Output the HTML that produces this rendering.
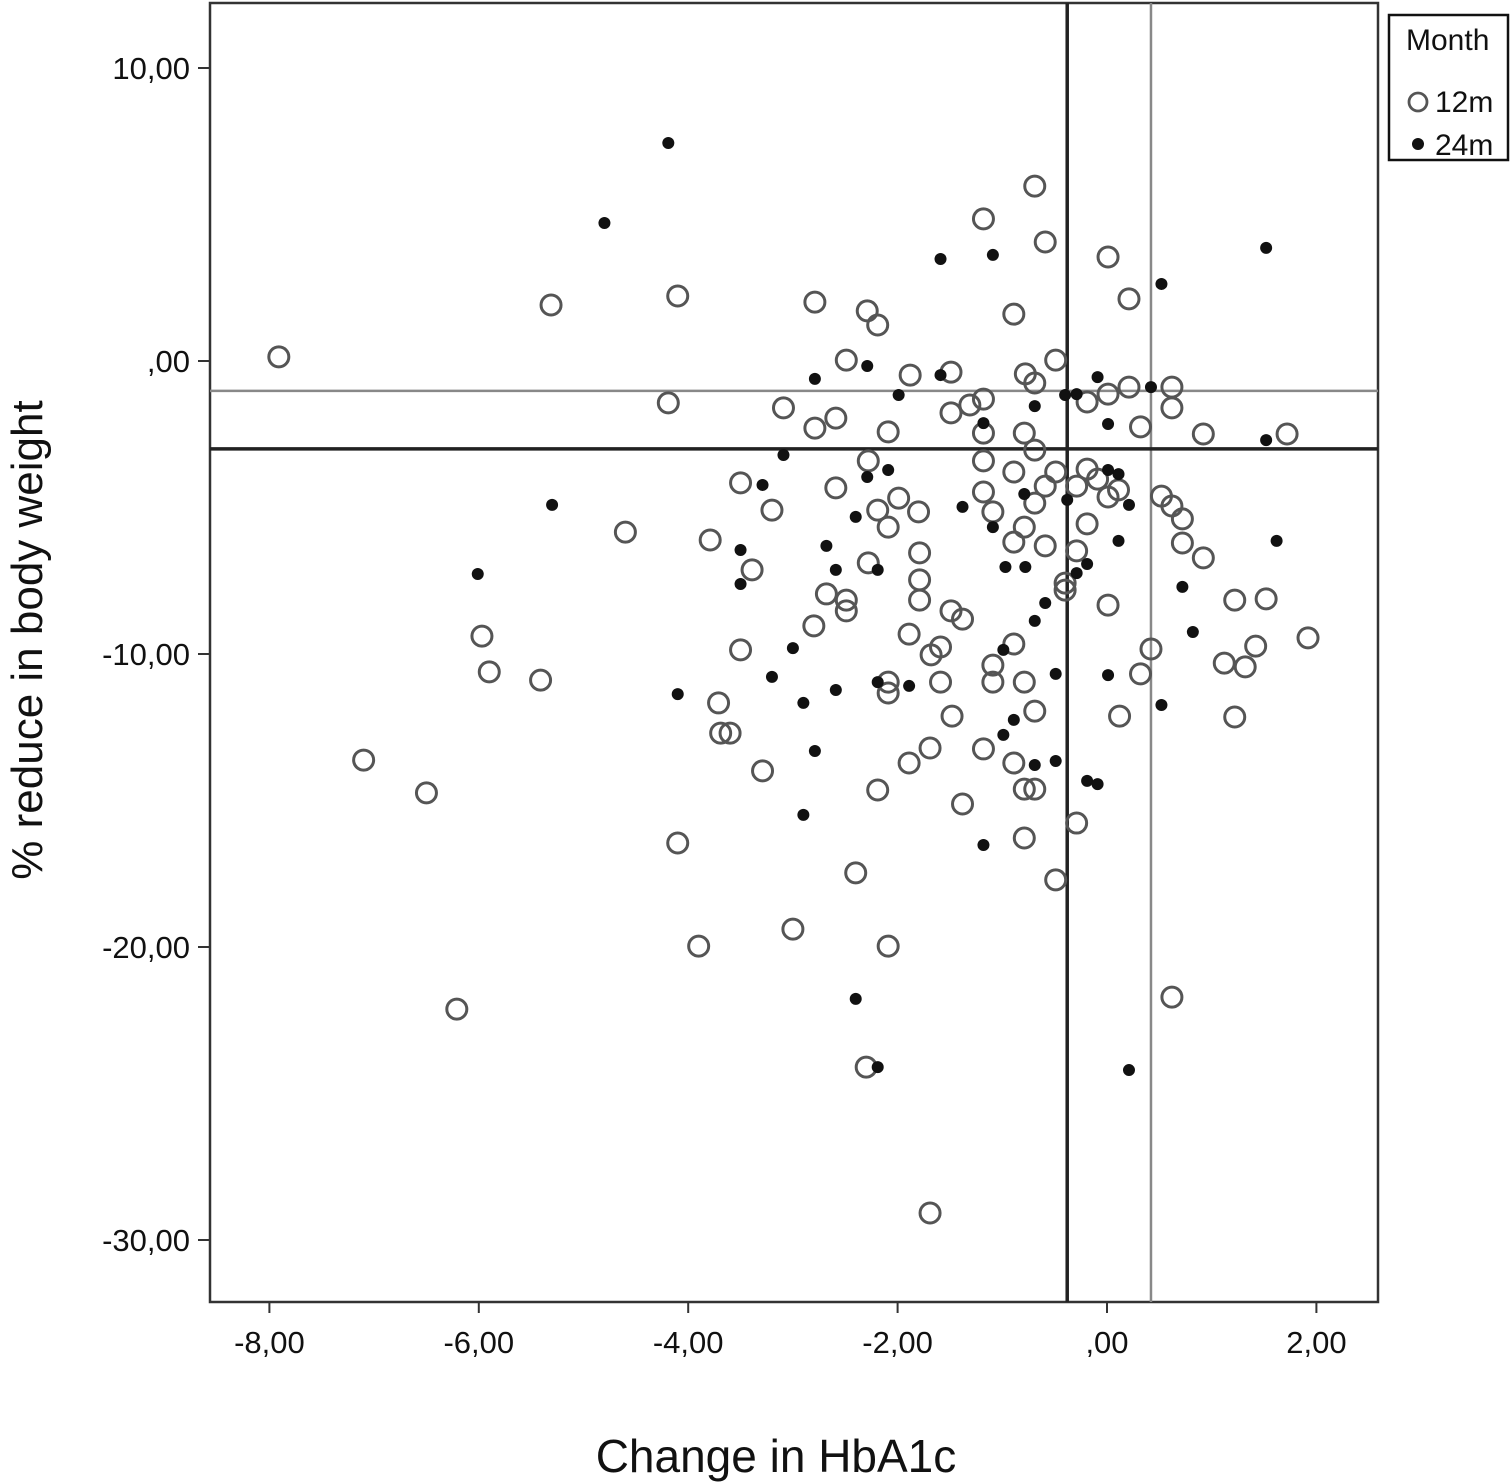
<!DOCTYPE html>
<html><head><meta charset="utf-8"><style>
html,body{margin:0;padding:0;background:#fff;}
svg{display:block;font-family:"Liberation Sans",sans-serif;}
</style></head><body>
<svg id="chart" width="1511" height="1483" viewBox="0 0 1511 1483">
<rect x="210" y="3" width="1168" height="1299" fill="#fff" stroke="#333" stroke-width="2.5"/>
<g id="refs"></g>
<g id="pts"></g>
<g id="axes"></g>
<text x="42" y="640" font-size="44" text-anchor="middle" transform="rotate(-90 42 640)" fill="#111">% reduce in body weight</text>
<text x="776" y="1472" font-size="46" text-anchor="middle" fill="#111">Change in HbA1c</text>
<g>
<rect x="1389" y="15" width="119" height="145" fill="#fff" stroke="#111" stroke-width="2.5"/>
<text x="1406" y="50" font-size="30" fill="#111">Month</text>
<circle cx="1418" cy="102" r="9" fill="none" stroke="#555" stroke-width="2.8"/>
<text x="1435" y="112" font-size="30" fill="#111">12m</text>
<circle cx="1418" cy="144" r="6" fill="#111"/>
<text x="1435" y="155" font-size="30" fill="#111">24m</text>
</g>
</svg>
<script>
const xTicks=[-8,-6,-4,-2,0,2];
const xTickLabels=["-8,00","-6,00","-4,00","-2,00",",00","2,00"];
const yTicks=[10,0,-10,-20,-30];
const yTickLabels=["10,00",",00","-10,00","-20,00","-30,00"];
const refX=[-0.38,0.42];
const refY=[-1.02,-3.0];
const m12x=[-7.91,-5.31,-5.97,-5.90,-5.41,-7.10,-6.50,-6.21,-4.60,-4.19,-4.10,-4.10,-3.90,-3.79,-3.71,-3.69,-3.60,-3.50,-3.39,-3.50,-3.29,-3.20,-3.09,-3.00,-2.79,-2.79,-2.80,-2.68,-2.59,-2.59,-2.49,-2.49,-2.49,-2.40,-2.29,-2.19,-2.28,-2.28,-2.19,-2.19,-2.09,-2.09,-2.09,-2.09,-2.09,-2.30,-1.99,-1.89,-1.89,-1.88,-1.80,-1.79,-1.79,-1.79,-1.69,-1.69,-1.68,-1.59,-1.59,-1.49,-1.49,-1.49,-1.38,-1.48,-1.38,-1.31,-1.18,-1.18,-1.18,-1.18,-1.18,-1.18,-1.09,-1.09,-1.09,-0.89,-0.89,-0.89,-0.89,-0.89,-0.79,-0.79,-0.79,-0.79,-0.79,-0.78,-0.69,-0.69,-0.69,-0.69,-0.69,-0.69,-0.59,-0.59,-0.59,-0.49,-0.49,-0.49,-0.40,-0.29,-0.29,-0.29,-0.19,-0.19,-0.19,0.01,0.01,0.01,0.01,0.12,0.21,0.21,0.32,0.32,0.42,0.52,0.62,0.62,0.62,0.62,0.72,0.72,0.92,0.92,1.12,1.22,1.22,1.32,1.42,1.52,1.72,1.92,-0.40,-0.09,0.11];
const m12y=[0.14,1.91,-9.39,-10.61,-10.89,-13.62,-14.74,-22.12,-5.84,-1.43,2.22,-16.45,-19.97,-6.11,-11.67,-12.70,-12.70,-4.16,-7.13,-9.86,-13.99,-5.09,-1.60,-19.39,2.01,-2.29,-9.04,-7.95,-1.95,-4.33,-8.53,-8.16,0.03,-17.47,1.71,1.23,-3.41,-6.89,-14.64,-5.09,-2.42,-5.67,-19.97,-10.96,-11.33,-24.10,-4.68,-9.32,-13.72,-0.48,-5.15,-7.47,-6.55,-8.16,-13.21,-29.08,-10.03,-9.76,-10.96,-0.38,-1.77,-8.53,-8.81,-12.12,-15.12,-1.50,4.85,-1.30,-2.46,-3.41,-4.47,-13.24,-5.15,-10.96,-10.38,1.60,-3.79,-6.18,-9.66,-13.72,-2.46,-5.67,-10.96,-14.61,-16.28,-0.44,5.97,-0.75,-3.04,-4.85,-11.95,-14.61,4.06,-4.27,-6.31,0.03,-3.79,-17.71,-7.58,-4.27,-6.48,-15.77,-3.69,-5.56,-1.40,3.55,-1.13,-4.64,-8.33,-12.12,2.12,-0.89,-2.25,-10.68,-9.83,-4.61,-0.89,-1.60,-4.95,-21.71,-5.39,-6.21,-2.49,-6.72,-10.31,-8.16,-12.15,-10.44,-9.73,-8.12,-2.49,-9.45,-7.82,-4.03,-4.40];
const m24x=[-4.19,-4.80,-5.30,-6.01,-4.10,-3.50,-3.50,-3.29,-3.09,-3.20,-3.00,-2.90,-2.90,-2.79,-2.79,-2.68,-2.59,-2.59,-2.40,-2.29,-2.29,-2.19,-2.19,-2.09,-1.99,-1.89,-1.59,-1.59,-1.38,-1.18,-1.18,-1.09,-1.09,-0.99,-0.99,-0.89,-0.79,-0.78,-0.69,-0.69,-0.69,-0.59,-0.49,-0.49,-0.40,-0.29,-0.29,-0.19,-0.19,-0.09,-0.09,0.01,0.01,0.11,0.21,0.21,0.42,0.52,0.52,0.72,0.82,1.52,1.52,1.62,0.01,0.11,-2.40,-2.19,-0.97,-0.38];
const m24y=[7.44,4.71,-4.91,-7.27,-11.37,-6.45,-7.61,-4.23,-3.21,-10.78,-9.80,-11.67,-15.49,-0.61,-13.31,-6.31,-7.13,-11.23,-5.32,-0.17,-3.96,-7.13,-10.96,-3.72,-1.16,-11.09,-0.48,3.48,-4.98,-16.52,-2.12,3.62,-5.67,-9.86,-12.76,-12.25,-4.54,-7.03,-1.54,-8.87,-13.79,-8.26,-10.68,-13.65,-1.16,-1.13,-7.24,-14.33,-6.93,-0.55,-14.44,-2.15,-10.72,-6.14,-24.20,-4.91,-0.89,2.63,-11.74,-7.71,-9.25,-2.70,3.86,-6.14,-3.72,-3.86,-21.77,-24.10,-7.03,-4.74];

const NS="http://www.w3.org/2000/svg";
function sx(v){return 1107+v*104.7;}
function sy(v){return 361-v*29.3;}
function mk(tag,attrs,parent){const e=document.createElementNS(NS,tag);for(const k in attrs)e.setAttribute(k,attrs[k]);parent.appendChild(e);return e;}
const axes=document.getElementById('axes');
xTicks.forEach((t,i)=>{
  const l=mk('line',{x1:sx(t),x2:sx(t),y1:1302,y2:1313,stroke:'#333','stroke-width':2},axes);
  
  
  const tx=mk('text',{x:sx(t),y:1353,'font-size':31,'text-anchor':'middle',fill:'#111'},axes);
  tx.textContent=xTickLabels[i];
  
  
});
yTicks.forEach((t,i)=>{
  const l=mk('line',{x1:198,x2:210,y1:sy(t),y2:sy(t),stroke:'#333','stroke-width':2},axes);
  
  
  const tx=mk('text',{x:190,y:sy(t)+11,'font-size':31,'text-anchor':'end',fill:'#111'},axes);
  tx.textContent=yTickLabels[i];
  
  
});
const refs=document.getElementById('refs');
refX.forEach((v,i)=>{
  const l=mk('line',{x1:sx(v),x2:sx(v),y1:3,y2:1302,stroke:i===0?'#222':'#888','stroke-width':i===0?3.5:2.5},refs);
  
  
});
refY.forEach((v,i)=>{
  const l=mk('line',{x1:210,x2:1378,y1:sy(v),y2:sy(v),stroke:i===0?'#888':'#222','stroke-width':i===0?2.5:3.5},refs);
  
  
});
const pts=document.getElementById('pts');
m12x.forEach((x,i)=>{
  const c=mk('circle',{cx:sx(x),cy:sy(m12y[i]),r:10,fill:'none',stroke:'#555','stroke-width':3},pts);
  
  
});
m24x.forEach((x,i)=>{
  const c=mk('circle',{cx:sx(x),cy:sy(m24y[i]),r:6,fill:'#111'},pts);
  
  
});
</script>
</body></html>
